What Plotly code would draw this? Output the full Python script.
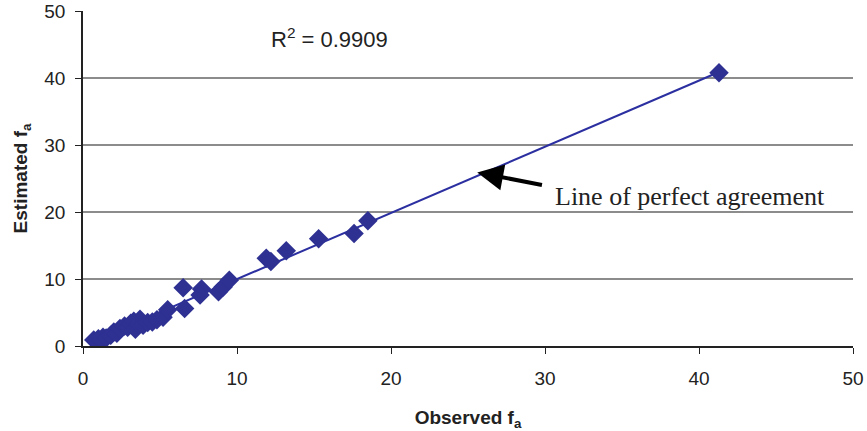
import plotly.graph_objects as go

observed = [0.7, 0.9, 1.0, 1.2, 1.3, 1.5, 1.8, 2.0, 2.2, 2.4, 2.7, 2.9, 3.1, 3.3, 3.4, 3.6, 3.7,
            3.9, 4.2, 4.5, 4.8, 5.2, 5.5, 6.5, 6.6, 7.7, 7.6, 8.8, 9.1, 9.5, 11.9, 12.2, 13.2,
            15.3, 17.6, 18.5, 41.3]
estimated = [0.9, 0.7, 1.1, 0.9, 1.3, 1.2, 1.6, 2.1, 1.9, 2.6, 3.0, 2.8, 3.4, 3.7, 2.5, 3.3, 4.0,
             3.1, 3.5, 3.6, 3.9, 4.3, 5.4, 8.7, 5.6, 8.5, 7.6, 8.1, 8.8, 9.8, 13.1, 12.6, 14.2,
             16.0, 16.8, 18.7, 40.8]
line_x = [0.7, 41.3]
line_y = [0.8, 40.9]
x_ticks = [0, 10, 20, 30, 40, 50]
y_ticks = [0, 10, 20, 30, 40, 50]

blue = "#2E3192"
sans = "Liberation Sans, Arial"

fig = go.Figure()
fig.add_trace(go.Scatter(x=line_x, y=line_y, mode="lines",
                         line=dict(color="#2B2FA0", width=2), showlegend=False, hoverinfo="skip"))
fig.add_trace(go.Scatter(x=observed, y=estimated, mode="markers",
                         marker=dict(symbol="diamond", size=15, color=blue, line=dict(width=0)),
                         showlegend=False))

fig.add_annotation(x=16, y=45.9, text="R<sup>2</sup> = 0.9909", showarrow=False,
                   font=dict(family=sans, size=22, color="#222"))
fig.add_annotation(x=25.6, y=25.9, ax=29.9, ay=24.0, axref="x", ayref="y",
                   text="", showarrow=True, arrowhead=2, arrowsize=1.3, arrowwidth=4,
                   arrowcolor="black")
fig.add_annotation(x=30.5, y=22.3, text="Line of perfect agreement", showarrow=False,
                   xanchor="left", font=dict(family="Liberation Serif, Times New Roman", size=26, color="#222"))

axis_font = dict(family=sans, size=19, color="#222")
title_font = dict(family=sans, size=19, color="#222")
fig.update_xaxes(range=[0, 50], tickvals=x_ticks, ticks="outside", ticklen=6, tickcolor="#222",
                 showline=True, linecolor="#222", linewidth=1.5, showgrid=False, zeroline=False,
                 tickfont=axis_font, ticklabelstandoff=8, automargin=False,
                 title=dict(text="<b>Observed f<sub>a</sub></b>", font=title_font, standoff=26))
fig.update_yaxes(range=[0, 50], tickvals=y_ticks, ticks="outside", ticklen=6, tickcolor="#222",
                 showline=True, linecolor="#222", linewidth=1.5, showgrid=True,
                 gridcolor="#8c8c8c", gridwidth=1.5, zeroline=False, tickfont=axis_font,
                 ticklabelstandoff=6, automargin=False,
                 title=dict(text="<b>Estimated f<sub>a</sub></b>", font=title_font, standoff=12))
fig.update_layout(width=867, height=431, margin=dict(l=83, r=14, t=11, b=85),
                  plot_bgcolor="white", paper_bgcolor="white")
fig.write_html("out.html")
